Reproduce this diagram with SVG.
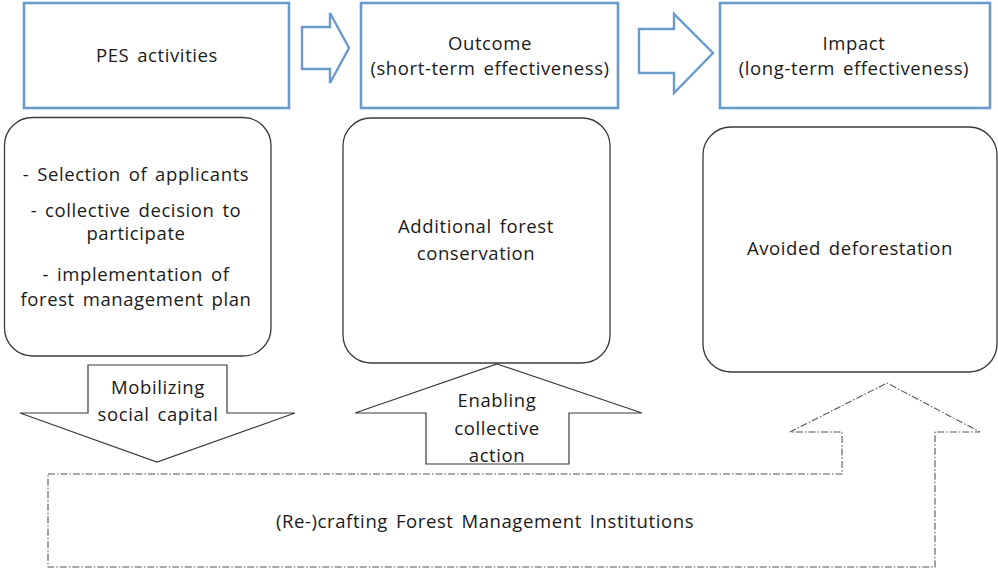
<svg xmlns="http://www.w3.org/2000/svg" width="998" height="571" viewBox="0 0 998 571">
<style>
.hdr{fill:#fff;stroke:#6b9bca;stroke-width:2.6}
.harrow{fill:#fff;stroke:#6b9bca;stroke-width:2.4;stroke-linejoin:miter}
.rbox{fill:#fff;stroke:#3a3a3a;stroke-width:1.3}
.arr{fill:#fff;stroke:#3a3a3a;stroke-width:1.2}
.dash{fill:#fff;stroke:#555;stroke-width:1.1;stroke-dasharray:7 2 1.5 2}
text{font-family:"Open Sans","Noto Sans",sans-serif;font-size:18.5px;fill:#1a1a1a;text-anchor:middle;letter-spacing:0.6px;word-spacing:2.5px}
</style>
<rect width="998" height="571" fill="#fff"/>
<g id="connectors">
<path class="harrow" d="M302,27 H330 V13 L349,48 L330,83 V69 H302 Z"/>
<path class="harrow" d="M639,29 H674 V14 L713,53 L674,93 V73 H639 Z"/>
</g>
<g id="institutions">
<path class="dash" d="M48,474 H842 V432 H790 L887,383 L980,432 H935 V567 H48 Z"/>
<text x="485" y="528">(Re-)crafting Forest Management Institutions</text>
</g>
<g id="pes-activities">
<rect class="hdr" x="24" y="3" width="265" height="105"/>
<text x="157" y="62">PES activities</text>
</g>
<g id="outcome">
<rect class="hdr" x="361" y="3" width="257" height="105"/>
<text x="490" y="50">Outcome</text>
<text x="490" y="75">(short-term effectiveness)</text>
</g>
<g id="impact">
<rect class="hdr" x="720" y="3" width="270" height="105"/>
<text x="854" y="50">Impact</text>
<text x="854" y="75">(long-term effectiveness)</text>
</g>
<g id="activities-detail">
<rect class="rbox" x="4.5" y="117.5" width="266.5" height="238.5" rx="28"/>
<text x="136" y="181">- Selection of applicants</text>
<text x="136" y="217">- collective decision to</text>
<text x="136" y="240">participate</text>
<text x="136" y="281">- implementation of</text>
<text x="136" y="306">forest management plan</text>
</g>
<g id="outcome-detail">
<rect class="rbox" x="343" y="118" width="267" height="245" rx="28"/>
<text x="476" y="233">Additional forest</text>
<text x="476" y="260">conservation</text>
</g>
<g id="impact-detail">
<rect class="rbox" x="703" y="127" width="294" height="245" rx="28"/>
<text x="850" y="255">Avoided deforestation</text>
</g>
<g id="mobilizing">
<path class="arr" d="M88,365 H227 V413 H295 L157,462 L20,413 H88 Z"/>
<text x="158" y="394">Mobilizing</text>
<text x="158" y="421">social capital</text>
</g>
<g id="enabling">
<path class="arr" d="M497,364 L642,413 H569 V464 H426 V413 H355 Z"/>
<text x="497" y="407">Enabling</text>
<text x="497" y="435">collective</text>
<text x="497" y="462">action</text>
</g>
</svg>
